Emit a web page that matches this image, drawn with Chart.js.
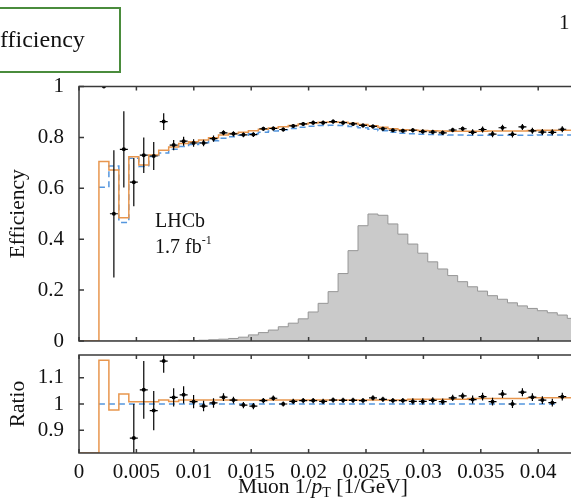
<!DOCTYPE html>
<html>
<head>
<meta charset="utf-8">
<script src="https://cdn.jsdelivr.net/npm/chart.js@4.4.1/dist/chart.umd.min.js"></script>
<style>
  html, body { margin: 0; padding: 0; width: 571px; height: 499px; overflow: hidden; background: #fff; }
  #wrap { position: relative; width: 571px; height: 499px; overflow: hidden; }
  canvas { position: absolute; left: 0; }
  #c-top { top: 0; }
  #c-bot { top: 345px; }
  .lbl { position: absolute; font-family: 'Liberation Serif', 'Times New Roman', serif; color: #111; line-height: 1; white-space: nowrap; }
  #box { position: absolute; left: -10px; top: 7px; width: 127px; height: 62px; border: 2px solid #4a8c3c; }
  #box-txt { left: 0; top: 27px; font-size: 24px; }
  #page-no { left: 559px; top: 12px; font-size: 21px; }
  #lhcb { left: 155px; top: 210px; font-size: 20px; }
  #lumi { left: 155px; top: 236px; font-size: 20px; }
  #lumi sup { font-size: 12px; vertical-align: 9px; line-height: 0; }
  #xtitle { left: 323px; top: 476px; font-size: 21.5px; transform: translateX(-50%); }
  #xtitle sub { font-size: 14px; vertical-align: -4px; line-height: 0; }
</style>
</head>
<body>
<div id="wrap">
  <canvas id="c-top" width="660" height="350"></canvas>
  <canvas id="c-bot" width="660" height="154"></canvas>
  <div id="box"></div>
  <div class="lbl" id="box-txt">fficiency</div>
  <div class="lbl" id="page-no">1</div>
  <div class="lbl" id="lhcb">LHCb</div>
  <div class="lbl" id="lumi">1.7 fb<sup>-1</sup></div>
  <div class="lbl" id="xtitle">Muon 1/<i>p</i><sub>T</sub> [1/GeV]</div>
</div>
<script>
/* eficiencia vs 1/pT — panel superior + ratio */

// ── datos (bins uniformes en 1/pT desde 0) ──
const BIN_W = 0.000868;

const X_TICKS    = [0, 0.005, 0.01, 0.015, 0.02, 0.025, 0.03, 0.035, 0.04];
const X_LABELS   = ['0', '0.005', '0.01', '0.015', '0.02', '0.025', '0.03', '0.035', '0.04'];
const EFF_TICKS  = [0, 0.2, 0.4, 0.6, 0.8, 1];
const EFF_LABELS = ['0', '0.2', '0.4', '0.6', '0.8', '1'];
const RAT_TICKS  = [0.9, 1, 1.1];
const RAT_LABELS = ['0.9', '1', '1.1'];

// puntos negros (datos)
const EFF_DATA = [null, null,
  1.0, 0.50, 0.753, 0.624, 0.730, 0.727, 0.862, 0.770, 0.785, 0.778,
  0.778, 0.795, 0.818, 0.814, 0.810, 0.811, 0.834, 0.835, 0.831, 0.845,
  0.853, 0.858, 0.858, 0.862, 0.858, 0.853, 0.847, 0.843, 0.834, 0.828,
  0.826, 0.828, 0.823, 0.821, 0.818, 0.829, 0.834, 0.820, 0.831, 0.813,
  0.838, 0.812, 0.841, 0.826, 0.821, 0.820, 0.832, null];
const EFF_ERR = [0, 0,
  0, 0.25, 0.15, 0.095, 0.07, 0.055, 0.033, 0.02, 0.018, 0.015,
  0.013, 0.012, 0.01, 0.01, 0.009, 0.009, 0.008, 0.008, 0.008, 0.008,
  0.008, 0.008, 0.008, 0.008, 0.008, 0.008, 0.008, 0.008, 0.008, 0.008,
  0.008, 0.009, 0.009, 0.009, 0.009, 0.009, 0.009, 0.012, 0.012, 0.012,
  0.012, 0.012, 0.012, 0.012, 0.012, 0.012, 0.012, 0];

// histograma naranja (sólido)
const EFF_ORANGE = [0, 0,
  0.705, 0.672, 0.484, 0.724, 0.692, 0.731, 0.750, 0.762, 0.776, 0.783,
  0.790, 0.799, 0.809, 0.815, 0.820, 0.826, 0.832, 0.837, 0.842, 0.847,
  0.853, 0.857, 0.860, 0.861, 0.860, 0.856, 0.851, 0.846, 0.840, 0.834,
  0.830, 0.829, 0.827, 0.826, 0.825, 0.824, 0.824, 0.824, 0.824, 0.825,
  0.825, 0.825, 0.825, 0.827, 0.828, 0.828, 0.828, 0.828];

// histograma azul (discontinuo)
const EFF_BLUE = [null, null,
  0.604, 0.688, 0.466, 0.718, 0.686, 0.725, 0.739, 0.753, 0.764, 0.772,
  0.779, 0.787, 0.797, 0.803, 0.808, 0.814, 0.820, 0.825, 0.830, 0.835,
  0.840, 0.844, 0.847, 0.848, 0.847, 0.843, 0.838, 0.832, 0.826, 0.820,
  0.816, 0.814, 0.812, 0.811, 0.810, 0.809, 0.809, 0.808, 0.808, 0.808,
  0.808, 0.808, 0.808, 0.808, 0.809, 0.809, 0.809, 0.809];

// distribución gris (unidades arbitrarias)
const DIST_GRAY = [0, 0,
  0, 0, 0, 0, 0, 0, 0, 0, 0.001, 0.002,
  0.003, 0.005, 0.007, 0.010, 0.015, 0.024, 0.033, 0.043, 0.056, 0.070,
  0.087, 0.114, 0.148, 0.194, 0.265, 0.355, 0.453, 0.499, 0.494, 0.460,
  0.420, 0.381, 0.345, 0.311, 0.283, 0.257, 0.233, 0.213, 0.196, 0.178,
  0.164, 0.150, 0.138, 0.128, 0.119, 0.111, 0.102, 0.089];

// panel ratio
const RAT_DATA = [null, null,
  null, null, null, 0.870, 1.054, 0.975, 1.164, 1.025, 1.035, 1.009,
  0.992, 1.004, 1.026, 1.015, 0.996, 0.992, 1.013, 1.022, 1.000, 1.010,
  1.013, 1.013, 1.010, 1.015, 1.014, 1.014, 1.013, 1.023, 1.018, 1.013,
  1.013, 1.010, 1.010, 1.014, 1.009, 1.023, 1.031, 1.017, 1.028, 1.009,
  1.038, 1.000, 1.045, 1.026, 1.015, 1.005, 1.028, null];
const RAT_ERR = [0, 0,
  0, 0, 0, 0.13, 0.11, 0.075, 0.045, 0.035, 0.033, 0.025,
  0.02, 0.018, 0.015, 0.013, 0.012, 0.012, 0.01, 0.01, 0.01, 0.01,
  0.01, 0.01, 0.01, 0.01, 0.01, 0.01, 0.01, 0.01, 0.01, 0.01,
  0.01, 0.012, 0.012, 0.012, 0.012, 0.012, 0.012, 0.015, 0.015, 0.015,
  0.015, 0.015, 0.015, 0.015, 0.015, 0.015, 0.015, 0];
const RAT_ORANGE = [0, 0,
  1.167, 0.977, 1.038, 1.009, 1.009, 1.009, 1.015, 1.010, 1.015, 1.015,
  1.015, 1.015, 1.015, 1.015, 1.015, 1.015, 1.015, 1.015, 1.015, 1.015,
  1.015, 1.015, 1.015, 1.015, 1.015, 1.015, 1.015, 1.015, 1.015, 1.015,
  1.015, 1.018, 1.018, 1.018, 1.018, 1.018, 1.018, 1.021, 1.021, 1.021,
  1.021, 1.021, 1.021, 1.024, 1.024, 1.024, 1.024, 1.024];
const RAT_BLUE = [null, null,
  1, 1, 1, 1, 1, 1, 1, 1, 1, 1, 1, 1, 1, 1, 1, 1, 1, 1, 1, 1, 1, 1,
  1, 1, 1, 1, 1, 1, 1, 1, 1, 1, 1, 1, 1, 1, 1, 1, 1, 1, 1, 1, 1, 1, 1, 1];

const RAT_MIN = 0.813, RAT_MAX = 1.187;

// ── estilo ──
const INK      = '#111';
const FRAME    = '#3a3a3a';
const ORANGE_C = 'rgb(232,150,78)';
const BLUE_C   = 'rgb(84,150,222)';
const FONT     = { family: "'Liberation Serif', 'Times New Roman', serif", size: 21 };

Chart.defaults.font.family = FONT.family;
Chart.defaults.color = INK;

// puntos en bordes de bin (para escalones) y en centros
const stepPts = (vals, lo = -Infinity) =>
  vals.map((v, k) => ({ x: k * BIN_W, y: v == null ? null : Math.max(v, lo) }))
      .concat([{ x: vals.length * BIN_W, y: vals[vals.length - 1] }]);
const centerPts = vals => vals.map((v, k) => ({ x: (k + 0.5) * BIN_W, y: v }));

// ── plugins ──
function errBars(values, errors) {
  return {
    id: 'errBars',
    afterDatasetsDraw(chart) {
      const { ctx, chartArea: a, scales: { x, y } } = chart;
      ctx.save();
      ctx.beginPath();
      ctx.rect(a.left, a.top, a.right - a.left, a.bottom - a.top);
      ctx.clip();
      ctx.strokeStyle = '#000';
      ctx.lineWidth = 1.2;
      ctx.beginPath();
      values.forEach((v, k) => {
        if (v == null) return;
        const cx = x.getPixelForValue((k + 0.5) * BIN_W);
        const cy = y.getPixelForValue(v);
        ctx.moveTo(x.getPixelForValue(k * BIN_W) + 1, cy);
        ctx.lineTo(x.getPixelForValue((k + 1) * BIN_W) - 1, cy);
        if (errors[k] > 0) {
          ctx.moveTo(cx, y.getPixelForValue(v + errors[k]));
          ctx.lineTo(cx, y.getPixelForValue(v - errors[k]));
        }
      });
      ctx.stroke();
      ctx.restore();
    },
  };
}

const frame = {
  id: 'frame',
  afterDatasetsDraw(chart) {
    const { ctx, chartArea: a, scales: { x, y } } = chart;
    ctx.save();
    ctx.strokeStyle = FRAME;
    ctx.lineWidth = 1.5;
    ctx.strokeRect(a.left, a.top, a.right - a.left, a.bottom - a.top);
    ctx.beginPath();
    X_TICKS.forEach(v => {
      const px = x.getPixelForValue(v);
      ctx.moveTo(px, a.top);    ctx.lineTo(px, a.top + 4);
      ctx.moveTo(px, a.bottom); ctx.lineTo(px, a.bottom - 4);
    });
    y.ticks.forEach(t => {
      const py = y.getPixelForValue(t.value);
      ctx.moveTo(a.left, py);  ctx.lineTo(a.left + 5, py);
      ctx.moveTo(a.right, py); ctx.lineTo(a.right - 5, py);
    });
    ctx.stroke();
    ctx.restore();
  },
};

const xScale = (showLabels, height) => ({
  type: 'linear', min: 0, max: 0.05,
  grid: { display: false }, border: { display: false },
  ticks: {
    display: showLabels, font: FONT, color: INK, padding: -1, maxRotation: 0,
    callback: v => X_LABELS[X_TICKS.indexOf(v)],
  },
  afterBuildTicks: a => { a.ticks = X_TICKS.map(v => ({ value: v })); },
  afterFit: a => { a.height = height; a.paddingLeft = 0; a.paddingRight = 0; },
});

const yScale = (min, max, ticks, labels, title) => ({
  min, max,
  grid: { display: false }, border: { display: false },
  ticks: { font: FONT, color: INK, padding: 7, callback: v => labels[ticks.indexOf(v)] },
  afterBuildTicks: a => { a.ticks = ticks.map(v => ({ value: v })); },
  afterFit: a => { a.width = 79; a.paddingTop = 0; a.paddingBottom = 0; },
  title: { display: true, text: title, font: { ...FONT, size: 21.5 }, color: INK, padding: { top: 5, bottom: 0 } },
});

const baseOpts = {
  responsive: false,
  animation: false,
  events: [],
  plugins: { legend: { display: false }, tooltip: { enabled: false } },
};

// ── panel superior: eficiencia ──
new Chart(document.getElementById('c-top'), {
  type: 'line',
  data: {
    datasets: [
      { data: centerPts(EFF_DATA), showLine: false, pointRadius: 2, pointBackgroundColor: '#000', pointBorderWidth: 0 },
      { data: stepPts(EFF_ORANGE), stepped: true, borderColor: ORANGE_C, borderWidth: 1.5, pointRadius: 0, fill: false },
      { data: stepPts(EFF_BLUE), stepped: true, borderColor: BLUE_C, borderWidth: 1.5, borderDash: [6, 4], pointRadius: 0, fill: false },
      { data: stepPts(DIST_GRAY), stepped: true, borderColor: 'rgb(150,150,150)', borderWidth: 1,
        backgroundColor: 'rgb(202,202,202)', fill: 'origin', pointRadius: 0 },
    ],
  },
  options: {
    ...baseOpts,
    layout: { padding: { top: 86.5, left: 0, right: 7, bottom: 9 } },
    scales: {
      x: xScale(false, 0),
      y: yScale(0, 1, EFF_TICKS, EFF_LABELS, 'Efficiency'),
    },
  },
  plugins: [errBars(EFF_DATA, EFF_ERR), frame],
});

// ── panel inferior: ratio ──
new Chart(document.getElementById('c-bot'), {
  type: 'line',
  data: {
    datasets: [
      { data: centerPts(RAT_DATA), showLine: false, pointRadius: 2, pointBackgroundColor: '#000', pointBorderWidth: 0 },
      { data: stepPts(RAT_ORANGE, RAT_MIN), stepped: true, borderColor: ORANGE_C, borderWidth: 1.5, pointRadius: 0, fill: false },
      { data: stepPts(RAT_BLUE), stepped: true, borderColor: BLUE_C, borderWidth: 1.5, borderDash: [6, 4], pointRadius: 0, fill: false },
    ],
  },
  options: {
    ...baseOpts,
    layout: { padding: { top: 10, left: 0, right: 7, bottom: 0 } },
    scales: {
      x: xScale(true, 46),
      y: yScale(RAT_MIN, RAT_MAX, RAT_TICKS, RAT_LABELS, 'Ratio'),
    },
  },
  plugins: [errBars(RAT_DATA, RAT_ERR), frame],
});
</script>
</body>
</html>
